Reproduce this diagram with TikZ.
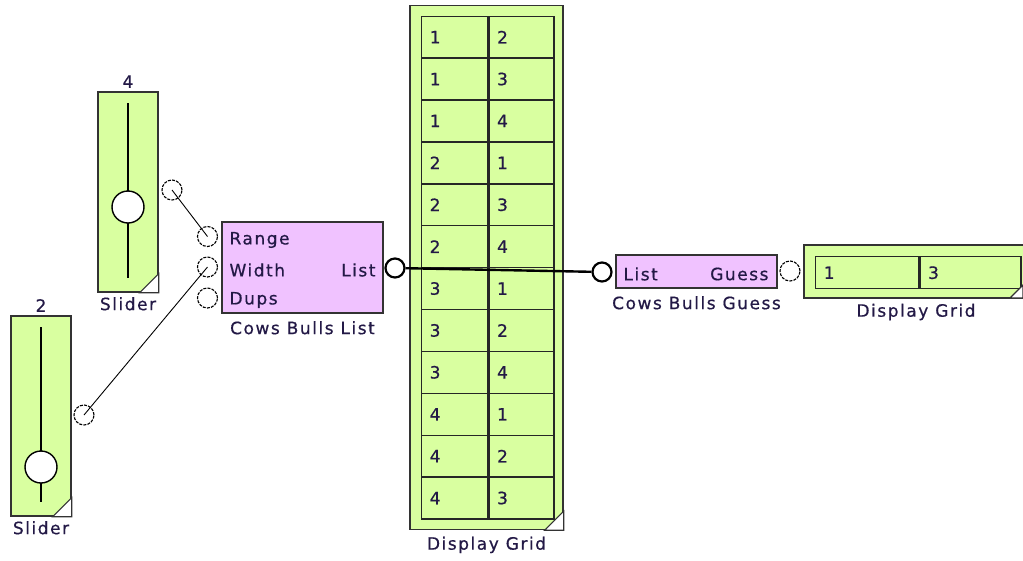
\documentclass[tikz,border=0pt]{standalone}
\usepackage{fontspec}
\setmainfont[LetterSpace=9,FakeBold=0.6]{DejaVu Sans}
\usetikzlibrary{positioning}
\definecolor{gridgreen}{RGB}{217,255,160}
\definecolor{blockpink}{RGB}{240,194,255}
\definecolor{inktext}{RGB}{35,25,70}

\begin{document}
\begin{tikzpicture}[x=1pt,y=-1pt,
  every node/.style={font=\fontsize{17}{19}\selectfont,text=inktext},
  block/.style={rectangle,draw=black!80,line width=1.4pt,inner sep=0pt},
  slider/.style={block,fill=gridgreen,minimum width=60pt,minimum height=200pt},
  func/.style={block,fill=blockpink},
  cell/.style={rectangle,draw=black!85,line width=1.4pt,fill=gridgreen,inner xsep=8pt,inner ysep=0pt,minimum height=41.9pt,align=left,anchor=north west},
  port/.style={circle,draw,dash pattern=on 3pt off 1.2pt,line width=1.1pt,minimum size=20pt,inner sep=0pt},
  link/.style={circle,draw,line width=2.2pt,fill=white,minimum size=19pt,inner sep=0pt},
  knob/.style={circle,draw,line width=1.4pt,fill=white,minimum size=32pt,inner sep=0pt},
  corner/.style={fill=white,draw=black!80,line width=1.1pt}
]
\useasboundingbox (0,0) rectangle (1023,560);

% SLIDERS
\node[slider] (S1) at (128,192) {};
\node (S1val) [above=0pt of S1] {4};
\node (S1name) [below=1pt of S1] {Slider};
\coordinate (S1top) at (128,103);
\coordinate (S1bot) at (128,278);
\draw[line width=1.4pt] (S1top) -- (S1bot);
\node[knob] (K1) at (128,207) {};
\draw[corner] (S1.south east) -- ++(-19,0) -- ++(19,-19) -- cycle;

\node[slider] (S2) at (41,416) {};
\node (S2val) [above=0pt of S2] {2};
\node (S2name) [below=1pt of S2] {Slider};
\coordinate (S2top) at (41,327);
\coordinate (S2bot) at (41,502);
\draw[line width=1.4pt] (S2top) -- (S2bot);
\node[knob] (K2) at (41,467) {};
\draw[corner] (S2.south east) -- ++(-19,0) -- ++(19,-19) -- cycle;

\node[port] (P1) at (172,190) {};
\node[port] (P2) at (84,415) {};

% COWS BULLS LIST
\node[func,minimum width=161pt,minimum height=91pt] (CBL) at (302.5,267.5) {};
\node (CBLname) [below=4pt of CBL] {Cows Bulls List};
\node[anchor=west] (tRange) at (226,240) {Range};
\node[anchor=west] (tWidth) at (226,270) {Width};
\node[anchor=west] (tDups) at (226,300) {Dups};
\node[anchor=east] (tList) at (379,270) {List};
\node[port] (Rg) at (207.5,236.5) {};
\node[port] (Wd) at (207.5,267) {};
\node[port] (Dp) at (207.5,298) {};

\draw[line width=0.9pt] (P1.center) -- (Rg.center);
\draw[line width=0.9pt] (P2.center) -- (Wd.center);

% DISPLAY GRID (big)
\node[block,fill=gridgreen,minimum width=153pt,minimum height=524pt] (G1) at (486.5,267.5) {};
\node (G1name) [below=3pt of G1] {Display Grid};
\foreach \a/\b [count=\i from 0] in {1/2,1/3,1/4,2/1,2/3,2/4,3/1,3/2,3/4,4/1,4/2,4/3} {
  \node[cell,text width=50pt] (L\i) at (421,{15.5+41.9*\i}) {\a};
  \node[cell,text width=49pt] (R\i) at (L\i.north east) {\b};
}
\draw[corner] (G1.south east) -- ++(-19,0) -- ++(19,-19) -- cycle;

% COWS BULLS GUESS
\node[func,minimum width=161pt,minimum height=33pt] (CBG) at (696.5,271.5) {};
\node (CBGname) [below=4pt of CBG] {Cows Bulls Guess};
\node[anchor=west] (tGList) at (620,274) {List};
\node[anchor=east] (tGuess) at (772,274) {Guess};
\node[link] (Lout) at (395,268) {};
\node[link] (Lin) at (602,272) {};
\node[port] (Gout) at (790,271) {};
\draw[line width=2.4pt] (Lout) -- (Lin);

% DISPLAY GRID (small)
\node[block,fill=gridgreen,minimum width=222pt,minimum height=53pt] (G2) at (915,271.5) {};
\node (G2name) at (916,312) {Display Grid};
\node[cell,text width=87pt,minimum height=32pt] (C1) at (815,256) {1};
\node[cell,text width=85pt,minimum height=32pt] (C2) at (C1.north east) {3};
\coordinate (G2corner) at (1023,298);
\draw[corner] (G2corner) -- ++(-13,0) -- ++(13,-13) -- cycle;

\end{tikzpicture}
\end{document}
